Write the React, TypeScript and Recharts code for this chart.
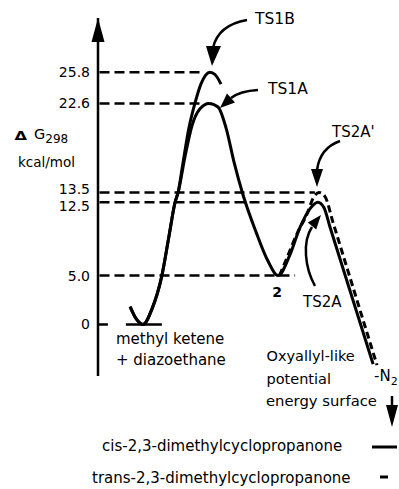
import { ComposedChart, Line, XAxis, YAxis, ReferenceLine } from "recharts"

// free energy levels marked on the axis (kcal/mol)
const energyTicks = [0, 5, 12.5, 13.5, 22.6, 25.8]
const tickText: Record<string, string> = { "0": "0", "5": "5.0", "12.5": "12.5", "13.5": "13.5", "22.6": "22.6", "25.8": "25.8" }

// reaction coordinate (arbitrary 0-100) / ΔG298
const ts1aCoord = [10.7, 12.7, 15, 18, 21.3, 23.7, 25.7, 26.7, 29, 31.3, 34, 37, 40, 42.7, 45.3, 48.3, 52.7, 56.7, 60, 64, 67.3, 70.7, 73.3, 75.3, 77.3, 91.7]
const ts1aEnergy = [1.83, 0.59, 0, 1.6, 5.0, 9.1, 12.5, 13.5, 17.15, 20.3, 22.06, 22.6, 22.24, 20.08, 16.66, 13.29, 9.44, 6.46, 5.0, 7.14, 9.9, 11.85, 12.5, 11.96, 10.0, -4.06]

const ts1bCoord = [10.7, 12.7, 15, 18, 21.3, 23.7, 25.7, 26.7, 28.3, 30.3, 32.3, 34.3, 37.3, 39, 41]
const ts1bEnergy = [1.83, 0.59, 0, 1.6, 5.0, 9.1, 12.5, 13.5, 16.46, 20.08, 22.6, 24.58, 25.8, 25.56, 24.58]

const ts2aPrimeCoord = [60.5, 62.5, 66.4, 69.8, 71.7, 73.7, 75.7, 78.3, 93]
const ts2aPrimeEnergy = [5.0, 6.46, 9.32, 11.39, 12.9, 13.5, 13.06, 10.47, -4.16]

// dashed guides from the axis to each stationary point
const guideLevels = [25.8, 22.6, 13.5, 12.5, 5.0]
const guideEnds = [35, 34, 72.3, 69, 65.7]

const zip = (xs: number[], ys: number[]) => xs.map((x, i) => ({ x, y: ys[i] }))

const FONT = "'DejaVu Sans', sans-serif"

// 12.5 and 13.5 sit close together; spread their labels a little
const labelNudge: Record<string, number> = { "13.5": -3.5, "12.5": 3.5 }

function EnergyTick(props: any) {
  const { x, y, payload } = props
  const key = String(payload.value)
  return (
    <text x={x} y={y + (labelNudge[key] ?? 0)} dy="0.355em" textAnchor="end" fill="#000" fontSize={14} fontFamily={FONT}>
      {tickText[key] ?? key}
    </text>
  )
}

function Annotations() {
  const t = { fontFamily: FONT, fill: "#000" }
  return (
    <svg width={399} height={489} style={{ position: "absolute", left: 0, top: 0, pointerEvents: "none" }}>
      {/* axis arrow */}
      <polygon points="98,18 91.5,42 104.5,42" fill="#000" />

      {/* axis title */}
      <text x={14.5} y={139.5} {...t} fontSize={13} fontWeight="bold" textLength={12.5} lengthAdjust="spacingAndGlyphs">Δ</text>
      <text x={34} y={139} {...t} fontSize={14.5}>
        G<tspan fontSize={12} dy={4}>298</tspan>
      </text>
      <text x={18} y={166.5} {...t} fontSize={13.5}>kcal/mol</text>

      {/* TS labels and arrows */}
      <text x={255} y={23.5} {...t} fontSize={15.5}>TS1B</text>
      <path d="M247,20 Q218,25 213,48" fill="none" stroke="#000" strokeWidth={2.5} />
      <polygon points="206,46 221,46 212,66" fill="#000" />

      <text x={268} y={93.5} {...t} fontSize={15.5}>TS1A</text>
      <path d="M258,90 Q240,91 231,98" fill="none" stroke="#000" strokeWidth={2.5} />
      <polygon points="235,102.4 227,93.6 220,108" fill="#000" />

      <text x={332} y={136.5} {...t} fontSize={15}>TS2A'</text>
      <path d="M340,141 Q320,148 317,170" fill="none" stroke="#000" strokeWidth={2.5} />
      <polygon points="311,169 323,169 317,187" fill="#000" />

      <text x={303} y={306.5} {...t} fontSize={15}>TS2A</text>
      <path d="M315,286 C305,268 302,242 312,227" fill="none" stroke="#000" strokeWidth={2.5} />
      <polygon points="316.2,229.5 307.8,222.5 321,215" fill="#000" />

      <text x={277} y={297} {...t} fontSize={14} fontWeight="bold" textAnchor="middle">2</text>

      {/* species */}
      <text x={116} y={343.5} {...t} fontSize={15}>methyl ketene</text>
      <text x={116} y={365} {...t} fontSize={15}>+ diazoethane</text>

      <text x={266.5} y={360.5} {...t} fontSize={14.5}>Oxyallyl-like</text>
      <text x={266.5} y={383.5} {...t} fontSize={14.5}>potential</text>
      <text x={266} y={406} {...t} fontSize={14.8}>energy surface</text>

      <text x={374} y={381} {...t} fontSize={15}>
        -N<tspan fontSize={11} dy={4}>2</tspan>
      </text>
      <line x1={392} y1={396} x2={392} y2={410} stroke="#000" strokeWidth={2.5} />
      <polygon points="386,405 398,405 392,427" fill="#000" />

      {/* legend */}
      <text x={102} y={451} {...t} fontSize={15}>cis-2,3-dimethylcyclopropanone</text>
      <line x1={372} y1={447} x2={397} y2={447} stroke="#000" strokeWidth={3} />
      <text x={92} y={482.5} {...t} fontSize={15}>trans-2,3-dimethylcyclopropanone</text>
      <line x1={380} y1={477} x2={388} y2={477} stroke="#000" strokeWidth={3} />
    </svg>
  )
}

export default function App() {
  return (
    <div style={{ position: "absolute", left: 0, top: 0, width: 399, height: 489, background: "#fff" }}>
      <ComposedChart width={399} height={489} margin={{ top: 18, right: 1, bottom: 113, left: 0 }}>
        <XAxis type="number" dataKey="x" domain={[0, 100]} allowDataOverflow hide />
        <YAxis
          type="number"
          dataKey="y"
          width={98}
          domain={[-5.27, 31.34]}
          allowDataOverflow
          ticks={energyTicks}
          interval={0}
          tickLine={false}
          tickSize={0}
          tickMargin={8}
          axisLine={{ stroke: "#000", strokeWidth: 2.5 }}
          tick={<EnergyTick />}
        />

        {guideLevels.map((lv, i) => (
          <ReferenceLine
            key={`g-${lv}`}
            segment={[{ x: 0.5, y: lv }, { x: guideEnds[i], y: lv }]}
            stroke="#000"
            strokeWidth={2.5}
            strokeDasharray="10 5"
          />
        ))}
        {/* tick at 0 and the reactant level */}
        <ReferenceLine segment={[{ x: 0, y: 0 }, { x: 3.3, y: 0 }]} stroke="#000" strokeWidth={2.5} />
        <ReferenceLine segment={[{ x: 9.3, y: 0 }, { x: 21.3, y: 0 }]} stroke="#000" strokeWidth={2.5} />

        <Line data={zip(ts1bCoord, ts1bEnergy)} dataKey="y" type="monotone" stroke="#000" strokeWidth={3} dot={false} isAnimationActive={false} />
        <Line data={zip(ts1aCoord, ts1aEnergy)} dataKey="y" type="monotone" stroke="#000" strokeWidth={3} dot={false} isAnimationActive={false} />
        <Line data={zip(ts2aPrimeCoord, ts2aPrimeEnergy)} dataKey="y" type="monotone" stroke="#000" strokeWidth={3} strokeDasharray="7 4" dot={false} isAnimationActive={false} />
      </ComposedChart>
      <Annotations />
    </div>
  )
}
